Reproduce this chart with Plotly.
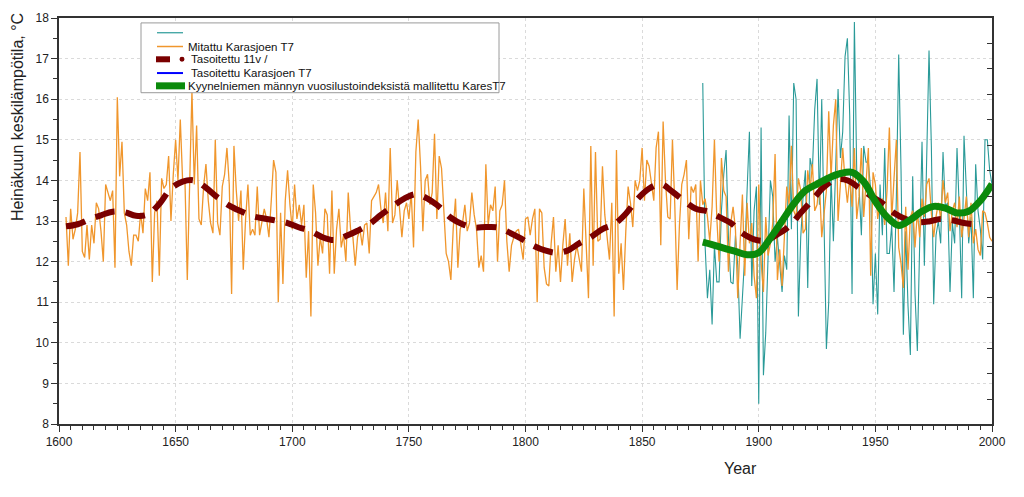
import plotly.graph_objects as go

# ---------------- data ----------------
measured_start = 1603
measured = [
    13.1, 11.9, 13.3, 12.55, 12.8, 13.2, 14.7, 12.25, 12.1, 12.9,          # 1603-1612
    12.05, 12.9, 12.45, 13.45, 13.3, 12.75, 12.0, 13.9, 13.7, 13.5,        # 1613-1622
    13.75, 11.85, 16.05, 14.1, 14.95, 13.2, 12.9, 12.25, 11.9, 12.65,      # 1623-1632
    12.65, 12.5, 13.2, 12.7, 13.8, 13.5, 14.2, 11.5, 13.2, 13.5,           # 1633-1642
    11.65, 14.05, 13.8, 13.9, 14.6, 13.0, 14.15, 15.0, 14.0, 15.5,         # 1643-1652
    14.0, 14.0, 11.55, 14.15, 16.2, 13.9, 15.35, 13.05, 12.9, 13.85,       # 1653-1662
    14.4, 13.5, 12.95, 12.7, 15.0, 12.95, 12.65, 13.85, 14.15, 14.8,       # 1663-1672
    13.9, 11.2, 14.85, 13.75, 13.0, 13.75, 11.8, 13.05, 13.9, 12.65,       # 1673-1682
    12.8, 12.65, 13.85, 12.65, 12.95, 13.3, 13.05, 12.6, 13.5, 14.5,       # 1683-1692
    14.2, 11.0, 13.2, 11.45, 13.5, 14.25, 13.4, 12.8, 13.9, 13.05,         # 1693-1702
    13.4, 12.9, 13.4, 11.6, 12.75, 10.65, 13.9, 13.2, 11.9, 12.6,          # 1703-1712
    12.2, 13.3, 13.15, 11.7, 13.75, 11.7, 12.8, 13.3, 12.35, 12.65,        # 1713-1722
    12.0, 13.7, 12.8, 12.6, 11.9, 12.6, 12.8, 12.4, 12.9, 12.95,           # 1723-1732
    12.2, 13.5, 13.6, 13.7, 13.9, 13.3, 12.95, 13.7, 12.75, 14.8,          # 1733-1742
    12.95, 13.15, 14.0, 13.3, 12.6, 13.25, 13.45, 13.05, 13.7, 12.35,      # 1743-1752
    14.7, 15.5, 14.35, 12.75, 14.0, 14.15, 13.4, 13.7, 15.15, 13.05,       # 1753-1762
    14.6, 14.3, 13.3, 12.2, 12.0, 11.55, 12.8, 13.55, 11.85, 12.8,         # 1763-1772
    12.95, 13.4, 12.75, 12.95, 13.7, 13.15, 12.8, 11.85, 12.15, 11.75,     # 1773-1782
    14.4, 12.9, 13.4, 13.25, 13.85, 12.0, 13.25, 13.4, 14.0, 12.5,         # 1783-1792
    11.75, 12.4, 12.6, 12.75, 12.8, 12.4, 12.05, 13.05, 13.1, 12.65,       # 1793-1802
    13.05, 13.3, 11.0, 13.3, 13.2, 11.85, 11.45, 11.4, 12.45, 13.1,        # 1803-1812
    11.75, 12.4, 11.5, 12.4, 13.05, 11.9, 12.7, 11.5, 12.05, 12.4,         # 1813-1822
    12.05, 11.75, 13.8, 12.2, 11.1, 14.85, 11.9, 14.7, 12.5, 12.55,        # 1823-1832
    14.35, 13.15, 12.65, 12.05, 13.45, 10.65, 14.75, 11.7, 12.45, 11.3,    # 1833-1842
    12.75, 13.85, 13.45, 12.85, 14.0, 13.75, 14.0, 14.8, 13.5, 14.5,       # 1843-1852
    14.35, 13.85, 13.5, 14.8, 15.2, 12.4, 15.45, 14.0, 13.1, 13.05,        # 1853-1862
    15.0, 13.4, 11.3, 12.9, 13.9, 14.15, 14.5, 12.55, 13.85, 13.7,         # 1863-1872
    13.9, 12.0, 14.0, 13.4, 13.55, 13.1, 12.5, 13.35, 15.0, 13.1,          # 1873-1882
    12.0, 14.55, 13.75, 13.6, 11.75, 12.95, 13.35, 12.8, 11.1, 12.45,      # 1883-1892
    13.65, 11.65, 13.45, 12.45, 12.95, 11.65, 11.1, 13.9, 12.0, 11.25,     # 1893-1902
    13.1, 12.15, 12.45, 12.95, 14.65, 11.55, 12.3, 11.4, 12.8, 13.85,      # 1903-1912
    13.4, 14.85, 13.25, 13.1, 14.05, 13.75, 12.7, 12.8, 14.25, 13.75,      # 1913-1922
    14.4, 13.25, 13.4, 13.95, 12.6, 13.25, 13.75, 15.7, 14.05, 15.35,      # 1923-1932
    16.0, 13.0, 14.05, 14.8, 14.0, 13.45, 14.05, 13.35, 14.8, 13.05,       # 1933-1942
    13.6, 14.8, 13.1, 13.9, 14.8, 11.65, 14.2, 13.9, 13.05, 13.45,         # 1943-1952
    13.55, 12.9, 13.75, 15.3, 13.05, 14.05, 15.0, 12.35, 11.95, 11.35,     # 1953-1962
    13.35, 11.8, 13.1, 13.25, 12.35, 13.25, 12.6, 13.55, 13.1, 13.9,       # 1963-1972
    14.05, 13.2, 12.6, 13.1, 13.45, 13.05, 14.0, 13.45, 13.7, 12.75,       # 1973-1982
    13.25, 13.45, 12.85, 13.6, 12.6, 13.05, 13.6, 12.6, 13.45, 12.45,      # 1983-1992
    12.8, 12.3, 12.15, 13.25, 13.2, 12.95, 12.6, 12.5,                     # 1993-2000
]
measured_years = list(range(measured_start, measured_start + len(measured)))

modelled_start = 1876
modelled = [
    16.4, 12.4, 11.1, 11.8, 10.45, 12.4, 11.5, 11.5, 13.25, 14.15,         # 1876-1885
    14.75, 12.6, 11.5, 11.45, 12.65, 11.9, 10.1, 11.25, 12.15, 13.75,      # 1886-1895
    15.2, 11.4, 13.25, 13.85, 8.5, 15.3, 9.2, 10.25, 12.0, 14.0,           # 1896-1905
    13.6, 12.0, 12.6, 11.8, 11.25, 12.15, 11.8, 15.6, 12.8, 16.4,          # 1906-1915
    16.0, 10.65, 12.6, 13.6, 14.25, 11.35, 14.55, 14.25, 15.75, 16.5,      # 1916-1925
    13.4, 16.0, 12.4, 9.85, 11.0, 14.1, 12.5, 14.25, 16.25, 14.55,         # 1926-1935
    15.2, 17.05, 17.5, 15.6, 11.2, 17.9, 14.25, 13.85, 12.65, 14.85,       # 1936-1945
    14.45, 14.45, 13.75, 10.95, 12.2, 10.7, 13.9, 12.65, 14.8, 12.2,       # 1946-1955
    12.2, 12.9, 11.25, 13.6, 17.1, 14.25, 10.2, 12.75, 10.9, 9.7,          # 1956-1965
    14.1, 11.2, 9.8, 12.45, 14.95, 11.9, 14.6, 17.2, 14.85, 10.95,         # 1966-1975
    12.65, 13.0, 12.45, 14.7, 13.35, 13.45, 11.25, 12.95, 12.45, 14.8,     # 1976-1985
    13.25, 11.1, 15.1, 13.6, 12.45, 13.1, 11.1, 14.4, 13.25, 12.8,         # 1986-1995
    12.05, 15.0, 15.0, 14.25, 13.9,                                        # 1996-2000
]
modelled_years = list(range(modelled_start, modelled_start + len(modelled)))

smooth_years = [1603, 1608, 1613, 1618, 1623, 1628, 1633, 1638, 1643, 1648,
                1653, 1658, 1663, 1668, 1673, 1678, 1683, 1688, 1693, 1698,
                1703, 1708, 1713, 1718, 1723, 1728, 1733, 1738, 1743, 1748,
                1753, 1758, 1763, 1768, 1773, 1778, 1783, 1788, 1793, 1798,
                1803, 1808, 1813, 1818, 1823, 1828, 1833, 1838, 1843, 1848,
                1853, 1858, 1863, 1868, 1873, 1878, 1883, 1888, 1893, 1898,
                1903, 1908, 1913, 1918, 1923, 1928, 1933, 1938, 1943, 1948,
                1953, 1958, 1963, 1968, 1973, 1978, 1983, 1988, 1993, 1995]
smooth_vals = [12.87, 12.92, 13.04, 13.14, 13.23, 13.22, 13.13, 13.16, 13.42, 13.8,
               13.97, 14.0, 13.82, 13.58, 13.38, 13.24, 13.12, 13.06, 13.01, 12.95,
               12.84, 12.75, 12.6, 12.53, 12.63, 12.76, 12.92, 13.15, 13.36, 13.55,
               13.66, 13.55, 13.35, 13.08, 12.92, 12.84, 12.85, 12.84, 12.72, 12.57,
               12.4, 12.28, 12.22, 12.27, 12.45, 12.6, 12.8, 12.92, 13.18, 13.54,
               13.8, 13.91, 13.72, 13.5, 13.3, 13.24, 13.1, 12.95, 12.7, 12.55,
               12.52, 12.67, 12.87, 13.2, 13.52, 13.84, 14.02, 14.0, 13.82, 13.62,
               13.44, 13.2, 13.05, 12.97, 12.99, 13.05, 13.02, 12.95, 12.92, 12.91]

tree_years = [1876, 1880, 1885, 1890, 1895, 1900, 1905, 1910, 1915, 1920,
              1925, 1930, 1935, 1940, 1945, 1950, 1955, 1960, 1965, 1970,
              1975, 1980, 1985, 1990, 1995, 2000]
tree_vals = [12.48, 12.42, 12.33, 12.25, 12.17, 12.22, 12.58, 13.0, 13.42, 13.75,
             13.91, 14.06, 14.17, 14.2, 13.97, 13.48, 13.1, 12.89, 13.03, 13.24,
             13.36, 13.32, 13.2, 13.24, 13.5, 13.91]

names = ["", "Mitattu Karasjoen T7", "Tasoitettu 11v /", "Tasoitettu Karasjoen T7",
         "Kyynelniemen männyn vuosilustoindeksistä mallitettu KaresT7"]

x_ticks = [1600, 1650, 1700, 1750, 1800, 1850, 1900, 1950, 2000]
y_ticks = [8, 9, 10, 11, 12, 13, 14, 15, 16, 17, 18]

# ---------------- styles ----------------
FONT = "Arial, Liberation Sans, sans-serif"
C_TEAL = "#2a9a98"
C_ORANGE = "#f0962c"
C_RED = "#7a0000"
C_BLUE = "#0000ff"
C_GREEN = "#0b8a0b"

W, H = 1024, 497
ML, MR, MT, MB = 59, 32, 11, 73
PW, PH = W - ML - MR, H - MT - MB


def px(xpix):
    return (xpix - ML) / PW


def py(ypix):
    return (H - MB - ypix) / PH


fig = go.Figure()

fig.add_trace(go.Scatter(x=modelled_years, y=modelled, mode="lines", name=names[0],
                         line=dict(color=C_TEAL, width=1.1), showlegend=False))
fig.add_trace(go.Scatter(x=measured_years, y=measured, mode="lines", name=names[1],
                         line=dict(color=C_ORANGE, width=1.3), showlegend=False))
fig.add_trace(go.Scatter(x=smooth_years, y=smooth_vals, mode="lines", name=names[2],
                         line=dict(color=C_RED, width=6, dash="20px,11px",
                                   shape="spline"), showlegend=False))
fig.add_trace(go.Scatter(x=tree_years, y=tree_vals, mode="lines", name=names[4],
                         line=dict(color=C_GREEN, width=7, shape="spline"),
                         showlegend=False))
# invisible trace to anchor the right-hand tick axis
fig.add_trace(go.Scatter(x=[None], y=[None], yaxis="y2", showlegend=False,
                         hoverinfo="skip"))

fig.update_layout(
    width=W, height=H,
    margin=dict(l=ML, r=MR, t=MT, b=MB),
    paper_bgcolor="white", plot_bgcolor="white",
    font=dict(family=FONT, size=12, color="#222"),
    showlegend=False,
    xaxis=dict(range=[1600, 2000], tickvals=x_ticks, ticks="outside", ticklen=6,
               tickcolor="#333", showline=True, linecolor="#333", linewidth=1.5,
               mirror=True, showgrid=True, gridcolor="#dadada", griddash="dot",
               gridwidth=1, zeroline=False,
               tickfont=dict(family=FONT, size=12, color="#222"),
               minor=dict(dtick=5, ticks="outside", ticklen=4, tickcolor="#333",
                          showgrid=False)),
    yaxis=dict(range=[8, 18], tickvals=y_ticks, ticks="outside", ticklen=6,
               tickcolor="#333", showline=True, linecolor="#333", linewidth=1.5,
               mirror=True, showgrid=True, gridcolor="#dadada", griddash="dot",
               gridwidth=1, zeroline=False,
               tickfont=dict(family=FONT, size=12, color="#222"),
               minor=dict(dtick=0.5, ticks="outside", ticklen=4, tickcolor="#333",
                          showgrid=False)),
    yaxis2=dict(overlaying="y", side="right", range=[0.033, 16.003],
                tickvals=list(range(1, 16)), ticks="inside", ticklen=5,
                tickcolor="#333", showticklabels=False, showline=False,
                showgrid=False, zeroline=False),
)

# ---------------- legend box (drawn) ----------------
fig.add_shape(type="rect", xref="paper", yref="paper",
              x0=px(141), x1=px(499), y0=py(87), y1=py(16),
              line=dict(color="#9a9a9a", width=1), fillcolor="white", layer="above")

rows = [26, 40, 53, 67, 80]
samples = [
    (C_TEAL, 1.2, 157, 183),
    (C_ORANGE, 1.5, 157, 183),
    (C_RED, 6, 156, 170),
    (C_BLUE, 2, 157, 183),
    (C_GREEN, 7, 156, 185),
]
for (col, wid, xa, xb), yr in zip(samples, rows):
    fig.add_shape(type="line", xref="paper", yref="paper",
                  x0=px(xa), x1=px(xb), y0=py(yr), y1=py(yr),
                  line=dict(color=col, width=wid), layer="above")
# dot of the smoothed series sample
fig.add_shape(type="circle", xref="paper", yref="paper",
              x0=px(179.5), x1=px(184.5), y0=py(55.5), y1=py(50.5),
              fillcolor=C_RED, line=dict(color=C_RED, width=0), layer="above")

text_x = [186, 186, 189, 189, 186]
for name, yr, tx in zip(names, rows, text_x):
    if not name:
        continue
    fig.add_annotation(text=name, x=px(tx), y=py(yr), xref="paper", yref="paper",
                       xanchor="left", yanchor="middle", showarrow=False,
                       font=dict(family=FONT, size=11.5, color="#111"))

# ---------------- axis titles ----------------
fig.add_annotation(text="Year", x=px(740), y=py(459), xref="paper", yref="paper",
                   xanchor="center", yanchor="top", showarrow=False,
                   font=dict(family=FONT, size=16, color="#222"))
fig.add_annotation(text="Heinäkuun keskilämpötila, °C", x=px(17), y=py(4),
                   xref="paper", yref="paper", xanchor="center", yanchor="top",
                   textangle=-90, showarrow=False,
                   font=dict(family=FONT, size=16, color="#222"))

fig.write_html("out.html", post_script="document.body.style.margin='0';",
               config={"displayModeBar": False})
